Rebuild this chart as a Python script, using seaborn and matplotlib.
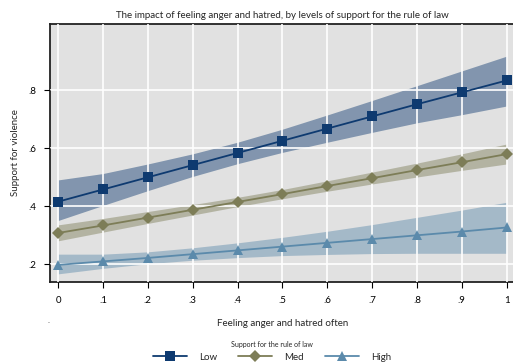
import matplotlib
matplotlib.use("Agg")
import matplotlib.pyplot as plt
import numpy as np
import pandas as pd
import seaborn as sns
from matplotlib.lines import Line2D

# values
anger = [0, .1, .2, .3, .4, .5, .6, .7, .8, .9, 1]
x_labels = ["0", ".1", ".2", ".3", ".4", ".5", ".6", ".7", ".8", ".9", "1"]
y_ticks = [.2, .4, .6, .8]
y_labels = [".2", ".4", ".6", ".8"]
groups = ["Low", "Med", "High"]

low_fit = [0.415, 0.457, 0.499, 0.541, 0.583, 0.625, 0.667, 0.709, 0.751, 0.792, 0.833]
low_lo = [0.350, 0.402, 0.453, 0.502, 0.546, 0.585, 0.620, 0.654, 0.687, 0.715, 0.745]
low_hi = [0.490, 0.512, 0.545, 0.580, 0.620, 0.665, 0.714, 0.764, 0.815, 0.866, 0.917]

med_fit = [0.307, 0.333, 0.360, 0.387, 0.414, 0.441, 0.469, 0.496, 0.524, 0.551, 0.579]
med_lo = [0.280, 0.310, 0.340, 0.369, 0.398, 0.425, 0.451, 0.476, 0.500, 0.523, 0.545]
med_hi = [0.335, 0.357, 0.381, 0.405, 0.430, 0.457, 0.487, 0.517, 0.548, 0.580, 0.614]

high_fit = [0.197, 0.209, 0.221, 0.234, 0.247, 0.260, 0.273, 0.286, 0.299, 0.312, 0.326]
high_lo = [0.166, 0.185, 0.201, 0.213, 0.222, 0.229, 0.233, 0.236, 0.237, 0.237, 0.237]
high_hi = [0.234, 0.234, 0.242, 0.256, 0.273, 0.292, 0.313, 0.336, 0.361, 0.386, 0.413]

colors = {"Low": "#0e3a70", "Med": "#7d7d57", "High": "#5b8aab"}
markers = {"Low": "s", "Med": "D", "High": "^"}

df = pd.DataFrame({
    "anger": anger * 3,
    "support": low_fit + med_fit + high_fit,
    "lo": low_lo + med_lo + high_lo,
    "hi": low_hi + med_hi + high_hi,
    "group": np.repeat(groups, len(anger)),
})

sns.set_style("ticks")
plt.rcParams["font.family"] = ["Lato", "DejaVu Sans"]

fig = plt.figure(figsize=(5.13, 3.64), dpi=100)
ax = fig.add_axes([0.0975, 0.2253, 0.906, 0.709])
ax.set_facecolor("#e1e1e1")

for g in groups:
    sub = df[df["group"] == g]
    ax.fill_between(sub["anger"], sub["lo"], sub["hi"], color=colors[g],
                    alpha=0.45, linewidth=0, zorder=1)

sns.lineplot(data=df, x="anger", y="support", hue="group", style="group",
             markers=markers, dashes=False, palette=colors, hue_order=groups,
             markersize=6.5, linewidth=1.3, markeredgewidth=0, legend=False,
             ax=ax, zorder=3)

ax.set_xlim(-0.018, 1.018)
ax.set_ylim(0.138, 1.028)
ax.set_xticks(anger)
ax.set_xticklabels(x_labels, fontsize=7)
ax.set_yticks(y_ticks)
ax.set_yticklabels(y_labels, fontsize=7)
ax.grid(True, color="white", linewidth=1.2, zorder=2)
ax.set_axisbelow(False)
for line in ax.get_xgridlines() + ax.get_ygridlines():
    line.set_zorder(2)
ax.tick_params(axis="both", direction="out", length=4, width=0.8, colors="black", pad=6)

for s in ["left", "bottom", "top"]:
    ax.spines[s].set_color("#222222")
    ax.spines[s].set_linewidth(1.3)
ax.spines["right"].set_visible(False)

ax.set_xlabel("Feeling anger and hatred often", fontsize=7, labelpad=10)
ax.set_ylabel("Support for violence", fontsize=7, labelpad=6)
ax.set_title("The impact of feeling anger and hatred, by levels of support for the rule of law",
             fontsize=7, pad=4)

fig.text(0.095, 0.12, ".", fontsize=6, ha="center", va="center", color="#666666")

handles = [Line2D([], [], color=colors[g], marker=markers[g], markersize=6.5,
                  markeredgewidth=0, linewidth=1.3) for g in groups]
leg = fig.legend(handles, groups, loc="center", bbox_to_anchor=(0.53, 0.035),
                 ncol=3, frameon=False, fontsize=7, title="Support for the rule of law",
                 title_fontsize=5, handlelength=3.5, columnspacing=2.2, handletextpad=1.2)

fig.savefig("out.png", dpi=100)
